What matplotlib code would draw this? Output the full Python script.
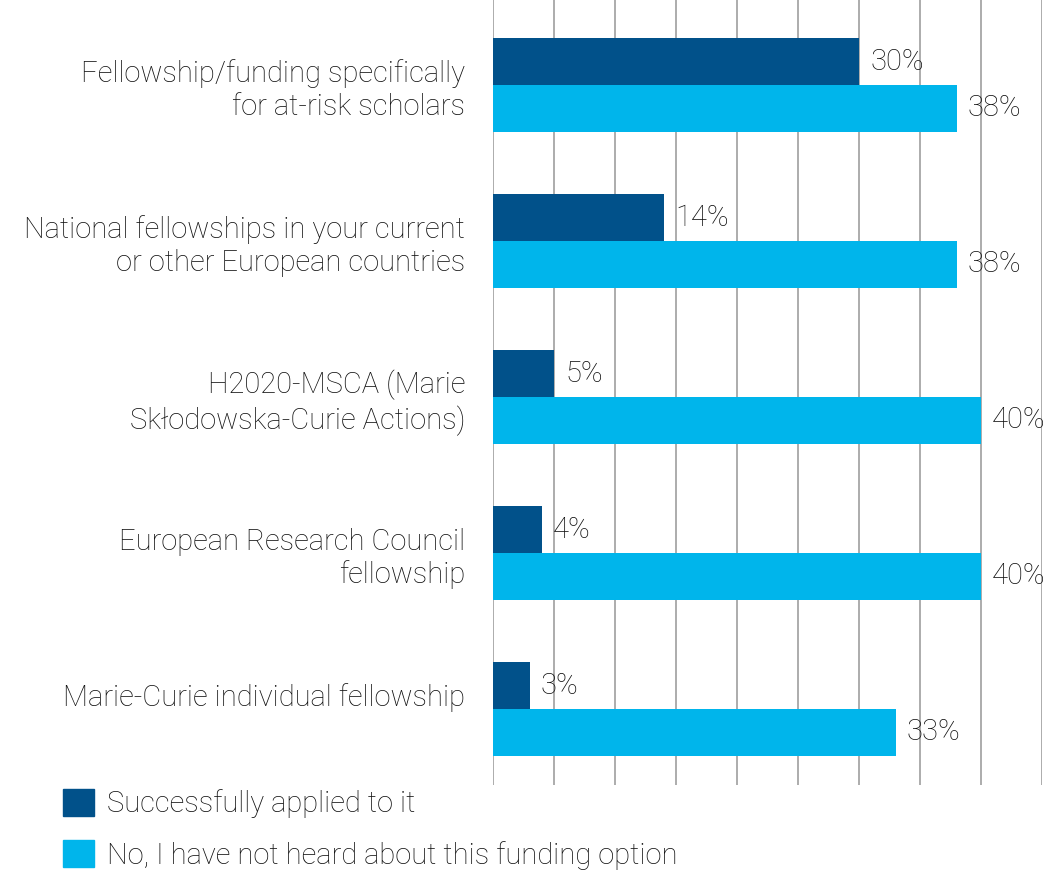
import matplotlib
matplotlib.use("Agg")
import matplotlib.pyplot as plt
from matplotlib.patches import Patch
import numpy as np

plt.rcParams['font.family'] = ['Roboto', 'DejaVu Sans']

categories = [
    "Fellowship/funding specifically\nfor at-risk scholars",
    "National fellowships in your current\nor other European countries",
    "H2020-MSCA (Marie\nSkłodowska-Curie Actions)",
    "European Research Council\nfellowship",
    "Marie-Curie individual fellowship\n ",
]
applied = [30, 14, 5, 4, 3]
not_heard = [38, 38, 40, 40, 33]
series_names = ["Successfully applied to it",
                "No, I have not heard about this funding option"]

dark = "#01518a"
light = "#00b5eb"
txt = "#111111"
fs = 21

fig = plt.figure(figsize=(10.55, 8.75), dpi=100)
ax = fig.add_axes([493 / 1055, 1 - 785 / 875, (1042 - 493) / 1055, 785 / 875])

y = np.arange(len(categories))
h = 0.30
b1 = ax.barh(y - h / 2, applied, height=h, color=dark, zorder=2)
b2 = ax.barh(y + h / 2, not_heard, height=h, color=light, zorder=2)

for bars, vals in ((b1, applied), (b2, not_heard)):
    for bar, v in zip(bars, vals):
        ax.annotate(f"{v}%", (bar.get_width(), bar.get_y() + bar.get_height() / 2),
                    xytext=(8, 0), textcoords="offset points",
                    va="center", ha="left", fontsize=fs, color=txt,
                    fontweight="light")

ax.set_xlim(0, 45)
ax.set_ylim(4.487, -0.545)
ax.set_xticks(np.arange(0, 46, 5))
ax.xaxis.grid(True, color="#a6a6a6", linewidth=1.3)
ax.set_axisbelow(True)
ax.tick_params(axis="x", length=0, labelbottom=False)
ax.tick_params(axis="y", length=0, pad=20, labelsize=fs, labelcolor=txt)
ax.set_yticks(y)
ax.set_yticklabels(categories, fontweight="light")
for lab in ax.get_yticklabels():
    lab.set_multialignment("right")
for s in ax.spines.values():
    s.set_visible(False)

handles = [Patch(color=dark), Patch(color=light)]
fig.legend(handles, series_names, loc="lower left", bbox_to_anchor=(0.035, -0.024),
           frameon=False, prop={"size": fs, "weight": "light"},
           handlelength=1.05, handleheight=1.05,
           handletextpad=0.45, labelspacing=0.75, labelcolor=txt)

fig.savefig("out.png", dpi=100)
